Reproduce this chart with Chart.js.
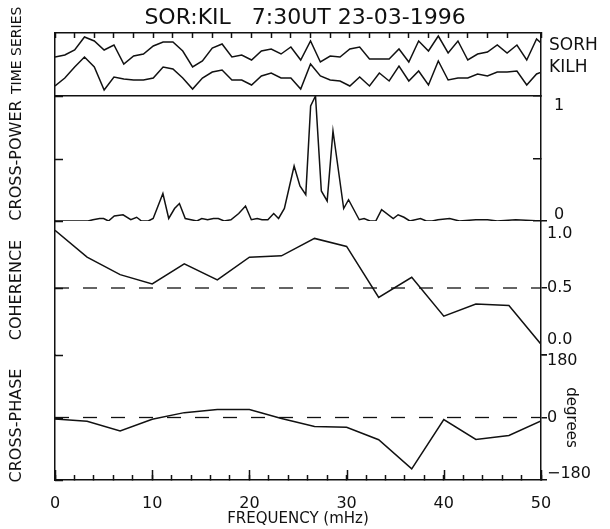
<!DOCTYPE html>
<html>
<head>
<meta charset="utf-8">
<script src="https://cdn.jsdelivr.net/npm/chart.js@4.4.1/dist/chart.umd.min.js"></script>
<style>
  html, body { margin: 0; padding: 0; background: #fff; }
</style>
</head>
<body>
<canvas id="chart" width="610" height="529"></canvas>
<script>
// values
const chartTitle = 'SOR:KIL   7:30UT 23-03-1996';
const panelTitles = ['TIME SERIES', 'CROSS-POWER', 'COHERENCE', 'CROSS-PHASE'];
const seriesNames = ['SORH', 'KILH'];

// time series, one sample per step (arbitrary units, SORH drawn above KILH)
const sorh = [39, 41, 46, 59, 55, 46, 51, 32, 40, 42, 50, 54, 54, 45, 29, 35, 48, 52, 39, 41,
              36, 45, 47, 42, 49, 36, 55, 34, 40, 39, 47, 49, 37, 37, 37, 47, 34, 55, 45, 60,
              43, 55, 36, 42, 44, 51, 43, 51, 36, 57, 48];
const kilh = [10, 18, 29, 39, 29, 6, 19, 17, 16, 16, 18, 29, 27, 18, 7, 18, 24, 26, 16, 16,
              11, 20, 23, 18, 18, 7, 32, 20, 16, 15, 10, 19, 10, 23, 15, 30, 15, 25, 11, 35,
              16, 18, 18, 22, 20, 24, 24, 25, 11, 22, 26];

// normalised cross-power spectrum
const cpFreq = [0, 1.0, 1.5, 2.0, 2.7, 3.4, 3.9, 4.6, 5.0, 5.5, 6.1, 7.0, 7.8, 8.4, 8.9, 9.6, 10.1,
                11.1, 11.7, 12.3, 12.8, 13.4, 14.6, 15.1, 15.7, 16.3, 16.8, 17.4, 18.1, 18.9, 19.6,
                20.2, 20.8, 21.3, 21.9, 22.5, 23.0, 23.6, 24.6, 25.2, 25.8, 26.3, 26.8, 27.4, 28.0,
                28.6, 29.7, 30.2, 31.3, 31.8, 32.4, 33.0, 33.6, 34.8, 35.3, 35.9, 36.5, 37.6, 38.2,
                38.8, 39.4, 40.6, 41.6, 43.3, 44.5, 45.5, 47.4, 50];
const cpPower = [0, 0, 0, 0, 0, 0, 0.01, 0.02, 0.02, 0, 0.04, 0.05, 0.01, 0.03, 0, 0, 0.02,
                 0.22, 0.02, 0.10, 0.14, 0.02, 0, 0.02, 0.01, 0.02, 0.02, 0, 0.01, 0.06, 0.12,
                 0.01, 0.02, 0.01, 0.01, 0.06, 0.02, 0.10, 0.44, 0.28, 0.21, 0.92, 1.0, 0.24, 0.16,
                 0.72, 0.10, 0.17, 0.01, 0.02, 0, 0, 0.09, 0.02, 0.05, 0.03, 0, 0.02, 0,
                 0, 0.01, 0.02, 0, 0.01, 0.01, 0, 0.01, 0];

// band-averaged coherence and cross-phase
const bandFreq = [0, 3.3, 6.7, 10, 13.3, 16.7, 20, 23.3, 26.7, 30, 33.3, 36.7, 40, 43.3, 46.7, 50];
const coherence = [0.93, 0.73, 0.60, 0.53, 0.68, 0.56, 0.73, 0.74, 0.87, 0.81, 0.43, 0.58, 0.29, 0.38, 0.37, 0.08];
const crossPhase = [-4, -11, -39, -5, 14, 23, 23, -3, -26, -28, -64, -148, -6, -63, -52, -10];
const cohLevel = 0.5;
const phaseLevel = 0;

// tick labels
const freqLabels = [0, 10, 20, 30, 40, 50];
const cpTicks = [0, 0.5, 1];
const cpTickLabels = ['0', '', '1'];
const cohTicks = [0, 0.5, 1];
const cohTickLabels = ['0.0', '0.5', '1.0'];
const phTicks = [-180, 0, 180];
const phTickLabels = ['\u2212180', '0', '180'];

const FONT = "'DejaVu Sans', sans-serif";
const INK = '#111';

const line = (data, xAxisID, yAxisID, extra) => Object.assign({
    data, xAxisID, yAxisID,
    borderColor: INK, borderWidth: 1.5, pointRadius: 0, tension: 0, fill: false,
}, extra);

const pairs = (xs, ys) => xs.map((x, i) => ({ x, y: ys[i] }));
const indexed = ys => ys.map((y, i) => ({ x: i, y }));

const datasets = [
    line(indexed(sorh), 'xt', 'yTS'),
    line(indexed(kilh), 'xt', 'yTS'),
    line(pairs(cpFreq, cpPower), 'x', 'yCP'),
    line(pairs(bandFreq, coherence), 'x', 'yCoh'),
    line([{ x: 0, y: cohLevel }, { x: 50, y: cohLevel }], 'x', 'yCoh', { borderDash: [14, 14], borderWidth: 1.3 }),
    line(pairs(bandFreq, crossPhase), 'x', 'yPh'),
    line([{ x: 0, y: phaseLevel }, { x: 50, y: phaseLevel }], 'x', 'yPh', { borderDash: [14, 14], borderWidth: 1.3 }),
];

const setTicks = values => scale => { scale.ticks = values.map(value => ({ value })); };
const border = { color: INK, width: 1.5 };

function rightAxis(weight, min, max, values, separator, tickLength) {
    return {
        type: 'linear', position: 'right', stack: 'right', stackWeight: weight, min, max,
        afterBuildTicks: setTicks(values),
        afterFit: s => { s.width = 69; },
        ticks: { display: false },
        border,
        grid: {
            drawOnChartArea: separator,
            color: c => (c.tick && c.tick.value === max) ? INK : 'rgba(0,0,0,0)',
            lineWidth: 1.5,
            tickColor: INK, tickLength, tickWidth: 1.5,
        },
    };
}

function leftAxis(weight, min, max) {
    return {
        type: 'linear', position: 'left', stack: 'left', stackWeight: weight, min, max,
        afterFit: s => { s.width = 55; },
        ticks: { display: false },
        border,
        grid: { display: false },
    };
}

// marks and text the axes can't place: inward ticks, panel titles, names, right-hand labels
const annotate = {
    id: 'annotate',
    afterDraw(chart) {
        const { ctx, chartArea, scales } = chart;
        ctx.save();
        ctx.strokeStyle = INK;
        ctx.fillStyle = INK;
        ctx.lineWidth = 1.5;

        // inward ticks on the left frame, long ticks at the labelled frequencies
        ctx.beginPath();
        [['lCP', cpTicks], ['lCoh', cohTicks], ['lPh', phTicks]].forEach(([id, ticks]) => {
            ticks.forEach(v => {
                const y = Math.round(scales[id].getPixelForValue(v)) + 0.5;
                ctx.moveTo(chartArea.left, y);
                ctx.lineTo(chartArea.left + 8, y);
            });
        });
        freqLabels.forEach(f => {
            const x = Math.round(scales.x.getPixelForValue(f)) + 0.5;
            ctx.moveTo(x, chartArea.bottom);
            ctx.lineTo(x, chartArea.bottom - 10);
        });
        ctx.stroke();

        ctx.font = '16px ' + FONT;
        ctx.textAlign = 'left';
        [['yCP', cpTicks, cpTickLabels, 2, 2, 13],
         ['yCoh', cohTicks, cohTickLabels, 5, 11, 6],
         ['yPh', phTicks, phTickLabels, -2, 2, 6]].forEach(([id, ticks, labels, padTop, padBottom, dx]) => {
            const s = scales[id];
            ticks.forEach((v, i) => {
                const x = chartArea.right + dx;
                if (v === s.max) {
                    ctx.textBaseline = 'top';
                    ctx.fillText(labels[i], x, s.top + padTop);
                } else if (v === s.min) {
                    ctx.textBaseline = 'alphabetic';
                    ctx.fillText(labels[i], x, s.bottom - padBottom);
                } else {
                    ctx.textBaseline = 'middle';
                    ctx.fillText(labels[i], x, s.getPixelForValue(v));
                }
            });
        });

        // series names next to the end of each trace
        ctx.font = '17px ' + FONT;
        ctx.textBaseline = 'middle';
        [sorh, kilh].forEach((ys, i) => {
            const y = scales.yTS.getPixelForValue(ys[ys.length - 1]);
            ctx.fillText(seriesNames[i], chartArea.right + 8, y - 2);
        });

        // degrees
        ctx.save();
        ctx.font = '15px ' + FONT;
        ctx.translate(chartArea.right + 30, scales.yPh.getPixelForValue(0));
        ctx.rotate(Math.PI / 2);
        ctx.textAlign = 'center';
        ctx.fillText('degrees', 0, 0);
        ctx.restore();

        // left panel titles, reading upwards
        ['yTS', 'yCP', 'yCoh', 'yPh'].forEach((id, i) => {
            const s = scales[id];
            ctx.save();
            if (i === 0) {
                ctx.font = '14px ' + FONT;
                ctx.translate(17, s.bottom - 2);
                ctx.textAlign = 'left';
            } else {
                ctx.font = '16px ' + FONT;
                ctx.translate(17, (s.top + s.bottom) / 2 + (i === 3 ? 8 : 2));
                ctx.textAlign = 'center';
            }
            ctx.rotate(-Math.PI / 2);
            ctx.fillText(panelTitles[i], 0, 0);
            ctx.restore();
        });
        ctx.restore();
    },
};

new Chart(document.getElementById('chart'), {
    type: 'line',
    data: { datasets },
    options: {
        responsive: false,
        animation: false,
        devicePixelRatio: 1,
        layout: { padding: 0 },
        plugins: {
            legend: { display: false },
            tooltip: { enabled: false },
            title: {
                display: true, text: chartTitle, color: INK,
                font: { family: FONT, size: 22, weight: 'normal', lineHeight: 1.1 },
                padding: { top: 6, bottom: 2.8 },
            },
        },
        scales: {
            x: {
                type: 'linear', position: 'bottom', min: 0, max: 50,
                afterFit: s => { s.height = 49; },
                ticks: {
                    stepSize: 2, autoSkip: false, maxRotation: 0, padding: 19, color: INK,
                    font: { family: FONT, size: 16 },
                    callback: v => freqLabels.some(f => Math.abs(f - v) < 1e-6) ? String(v) : '',
                },
                border,
                grid: { drawOnChartArea: false, tickColor: INK, tickLength: -5, tickWidth: 1.5 },
                title: {
                    display: true, text: 'FREQUENCY (mHz)', color: INK,
                    font: { family: FONT, size: 15 }, padding: { top: 0, bottom: 1 },
                },
            },
            xt: {
                type: 'linear', position: 'top', min: 0, max: 49.45,
                afterFit: s => { s.height = 0; },
                ticks: { display: false, stepSize: 2 },
                border,
                grid: { drawOnChartArea: false, tickColor: INK, tickLength: -5, tickWidth: 1.5 },
            },
            yTS: Object.assign(rightAxis(63, 0, 63, [], false, 6), { grid: { display: false } }),
            yCP: rightAxis(125, 0, 1, cpTicks, true, -8),
            yCoh: rightAxis(134, 0, 1, cohTicks, false, 6),
            yPh: rightAxis(125, -180, 180, phTicks, false, 6),
            lPh: leftAxis(125, -180, 180),
            lCoh: leftAxis(134, 0, 1),
            lCP: leftAxis(125, 0, 1),
            lTS: leftAxis(63, 0, 63),
        },
    },
    plugins: [annotate],
});
</script>
</body>
</html>
